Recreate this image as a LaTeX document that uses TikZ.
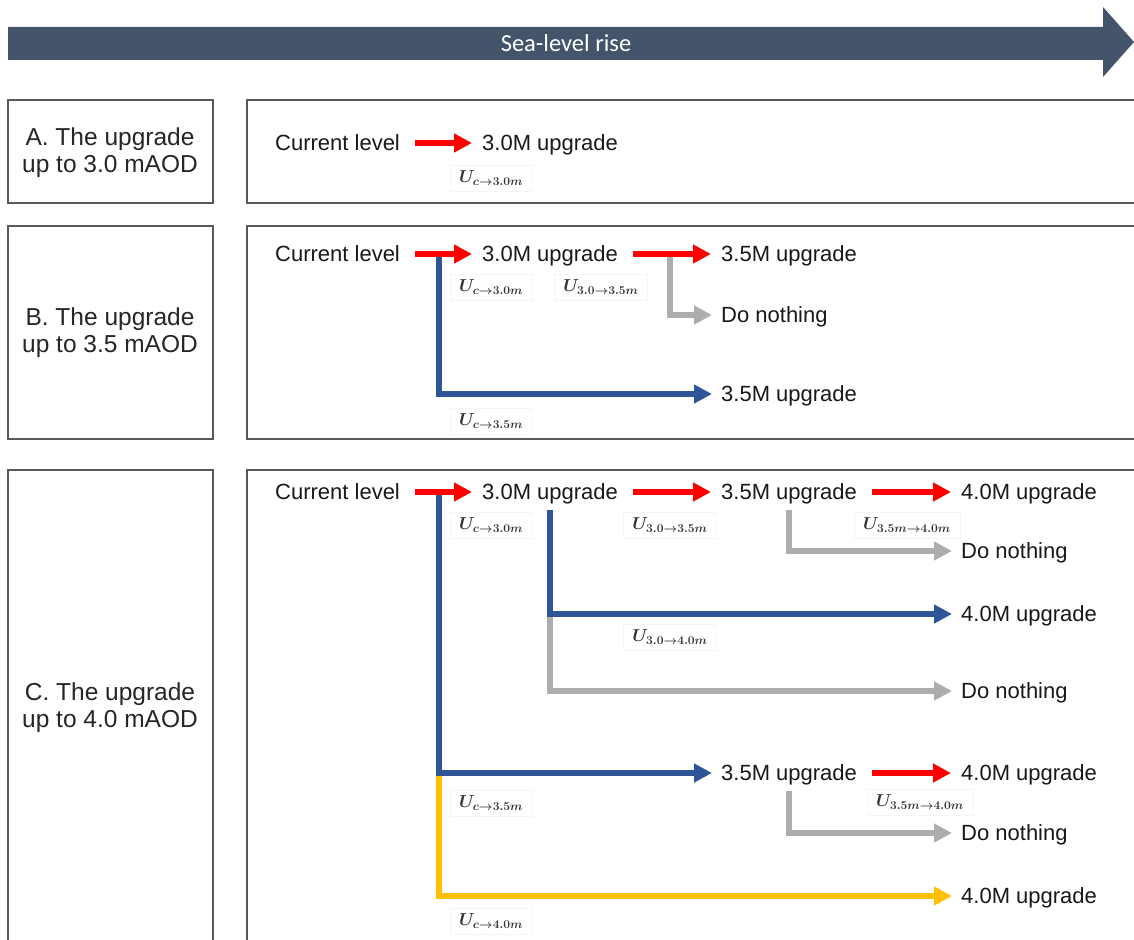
\documentclass[tikz,border=0pt]{standalone}
\usepackage{fontspec}
\setmainfont{Liberation Sans}
\newfontfamily\barfont{Carlito}
\usetikzlibrary{arrows.meta}
\definecolor{barfill}{HTML}{44546A}
\definecolor{upred}{HTML}{FF0000}
\definecolor{upblue}{HTML}{2F5597}
\definecolor{upgray}{HTML}{ADADAD}
\definecolor{upyellow}{HTML}{FFC000}
\definecolor{panelline}{HTML}{595959}

\begin{document}
\begin{tikzpicture}[x=1pt,y=-1pt,
  panel/.style={draw=panelline,line width=1.5pt},
  caption/.style={align=center,inner sep=0pt,font=\fontsize{24.5}{27}\selectfont,text=black!85},
  opt/.style={anchor=west,inner sep=0pt,text height=15.8pt,text depth=0pt,
    font=\fontsize{22}{26}\selectfont,text=black!90},
  cost/.style={draw=black!4,line width=0.5pt,fill=white,inner xsep=9pt,inner ysep=6pt,
    font=\fontsize{17.5}{19}\selectfont\boldmath,text=black!80},
  link/.style={line width=5.5pt,line join=miter,-{Triangle[length=18pt,width=18pt]}},
  redlink/.style={link,draw=upred,shorten <=15pt,shorten >=10pt},
  bluelink/.style={link,draw=upblue,shorten >=9pt},
  graylink/.style={link,draw=upgray,shorten >=9pt},
  yellowlink/.style={link,draw=upyellow,shorten >=9pt},
]
\clip (0,0) rectangle (1134,939);
\fill[white] (0,0) rectangle (1134,939);

% time axis
\fill[barfill] (8,27) -- (1103,27) -- (1103,7) -- (1134,42) -- (1103,77) -- (1103,60) -- (8,60) -- cycle;
\node[text=white,font=\barfont\fontsize{24.5}{26}\selectfont] (rise) at (566,43) {Sea-level rise};

% panels
\draw[panel] (8,100) rectangle (213,203);
\draw[panel] (247,100) rectangle (1145,203);
\draw[panel] (8,226) rectangle (213,439);
\draw[panel] (247,226) rectangle (1145,439);
\draw[panel] (8,470) rectangle (213,950);
\draw[panel] (247,470) rectangle (1145,950);

\node[caption] (capA) at (110,153) {A. The upgrade\\up to 3.0 mAOD};
\node[caption] (capB) at (110,333) {B. The upgrade\\up to 3.5 mAOD};
\node[caption] (capC) at (110,708) {C. The upgrade\\up to 4.0 mAOD};

% ---------- A ----------
\node[opt] (a0) at (275,143) {Current level};
\node[opt] (a1) at (482,143) {3.0M upgrade};
\node[cost] (ua1) at (491,178) {$U_{c\to3.0m}$};
\draw[redlink] (a0) -- (a1);

% ---------- B ----------
\node[opt] (b0) at (275,254) {Current level};
\node[opt] (b1) at (482,254) {3.0M upgrade};
\node[opt] (b2) at (721,254) {3.5M upgrade};
\node[opt] (b3) at (721,315) {Do nothing};
\node[opt] (b4) at (721,394) {3.5M upgrade};
\node[cost] (ub1) at (491,287) {$U_{c\to3.0m}$};
\node[cost] (ub2) at (601,287) {$U_{3.0\to3.5m}$};
\node[cost] (ub3) at (491,421) {$U_{c\to3.5m}$};
\coordinate (btrunk) at (439,254);
\coordinate (bstay) at (670,256);
\draw[bluelink] (btrunk) |- (b4);
\draw[graylink] (bstay) |- (b3);
\draw[redlink] (b0) -- (b1);
\draw[redlink] (b1) -- (b2);

% ---------- C ----------
\node[opt] (c0) at (275,492) {Current level};
\node[opt] (c1) at (482,492) {3.0M upgrade};
\node[opt] (c2) at (721,492) {3.5M upgrade};
\node[opt] (c3) at (961,492) {4.0M upgrade};
\node[opt] (c4) at (961,551) {Do nothing};
\node[opt] (c5) at (961,614) {4.0M upgrade};
\node[opt] (c6) at (961,691) {Do nothing};
\node[opt] (c7) at (721,773) {3.5M upgrade};
\node[opt] (c8) at (961,773) {4.0M upgrade};
\node[opt] (c9) at (961,833) {Do nothing};
\node[opt] (c10) at (961,896) {4.0M upgrade};

\node[cost] (uc1) at (491,525) {$U_{c\to3.0m}$};
\node[cost] (uc2) at (670,525) {$U_{3.0\to3.5m}$};
\node[cost] (uc3) at (907,525) {$U_{3.5m\to4.0m}$};
\node[cost] (uc4) at (670,637) {$U_{3.0\to4.0m}$};
\node[cost] (uc5) at (491,803) {$U_{c\to3.5m}$};
\node[cost] (uc6) at (920,802) {$U_{3.5m\to4.0m}$};
\node[cost] (uc7) at (491,921) {$U_{c\to4.0m}$};

\coordinate (ctrunk) at (439,492);
\coordinate (cfork) at (c1.south |- c5.west);
% lower branches first, so that the coloured lines lie on top
\draw[graylink] (cfork) |- (c6);
\draw[yellowlink] (ctrunk |- c7) |- (c10);
\draw[bluelink] (ctrunk) |- (c7);
\draw[bluelink] ([yshift=-10pt]c1.south) |- (c5);
\draw[graylink] ([yshift=-10pt]c2.south) |- (c4);
\draw[graylink] ([yshift=-10pt]c7.south) |- (c9);
\draw[redlink] (c0) -- (c1);
\draw[redlink] (c1) -- (c2);
\draw[redlink] (c2) -- (c3);
\draw[redlink] (c7) -- (c8);
\end{tikzpicture}
\end{document}
